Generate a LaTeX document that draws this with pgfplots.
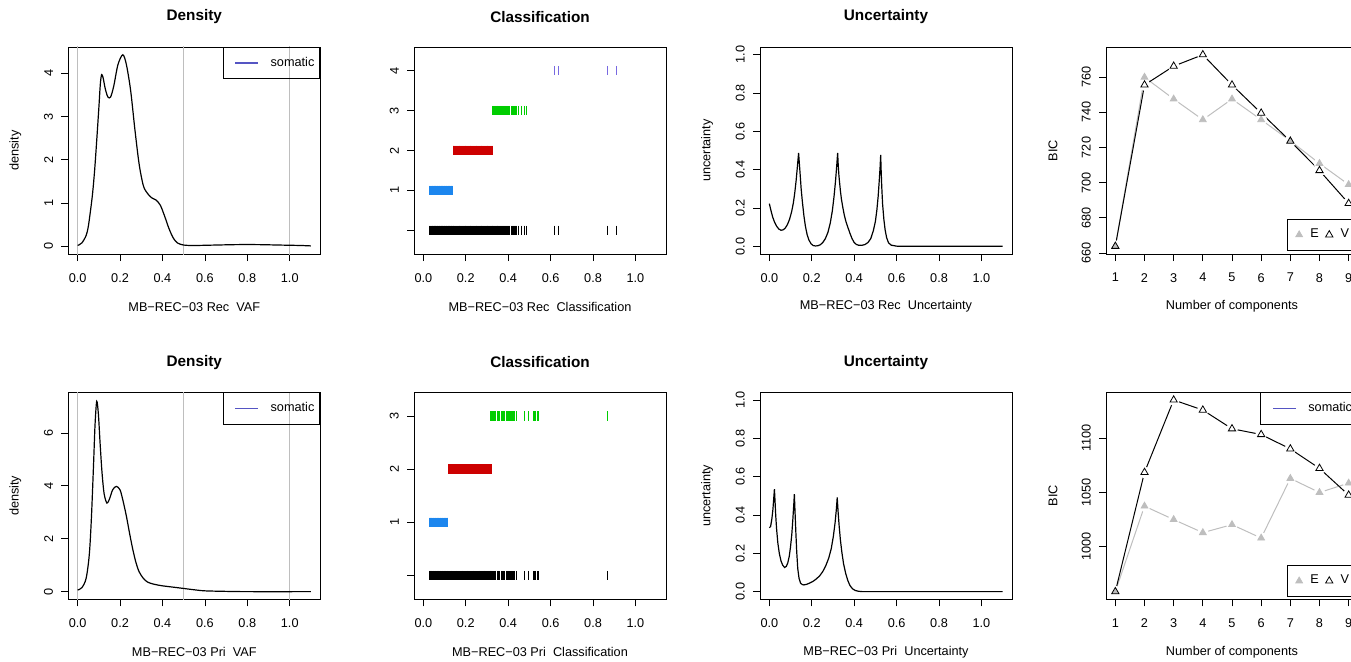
\documentclass[border=0pt]{standalone}
\usepackage{fontspec}
\setmainfont{Liberation Sans}
\usepackage{pgfplots}
\usepackage{pgfplotstable}
\pgfplotsset{compat=1.18}

\definecolor{lgray}{RGB}{190,190,190}
\definecolor{somablue}{RGB}{85,85,195}
\definecolor{cla}{RGB}{28,134,238}
\definecolor{clb}{RGB}{205,0,0}
\definecolor{clc}{RGB}{0,205,0}
\definecolor{cld}{RGB}{120,105,225}

\newcommand\rfont{\fontsize{6.35}{7.5}\selectfont}

% density curves
\pgfplotstableread{
x y
0.000 0.02
0.020 0.08
0.040 0.25
0.050 0.45
0.060 0.80
0.070 1.20
0.080 1.75
0.090 2.45
0.100 3.20
0.107 3.75
0.113 3.97
0.120 3.90
0.130 3.65
0.142 3.46
0.155 3.45
0.170 3.70
0.190 4.20
0.213 4.43
0.230 4.20
0.250 3.60
0.270 2.70
0.290 1.90
0.310 1.40
0.330 1.22
0.350 1.12
0.370 1.07
0.390 0.95
0.410 0.70
0.430 0.42
0.450 0.20
0.470 0.08
0.500 0.03
0.550 0.02
0.650 0.03
0.750 0.04
0.850 0.04
0.950 0.03
1.050 0.02
1.100 0.01
}\densA

\pgfplotstableread{
x y
0.000 0.06
0.020 0.15
0.040 0.50
0.055 1.40
0.065 2.80
0.075 4.80
0.082 6.30
0.090 7.20
0.098 6.70
0.106 5.60
0.115 4.50
0.125 3.70
0.138 3.35
0.150 3.50
0.165 3.85
0.182 3.98
0.200 3.85
0.215 3.40
0.230 2.85
0.245 2.20
0.260 1.60
0.275 1.10
0.290 0.75
0.310 0.50
0.330 0.36
0.360 0.28
0.400 0.22
0.450 0.17
0.500 0.12
0.550 0.07
0.600 0.03
0.700 0.01
0.800 0.00
1.100 0.00
}\densB

% uncertainty curves
\pgfplotstableread{
x y
0.000 0.223
0.008 0.185
0.016 0.152
0.025 0.125
0.035 0.104
0.045 0.090
0.055 0.084
0.065 0.086
0.075 0.095
0.085 0.113
0.095 0.140
0.105 0.180
0.113 0.225
0.120 0.280
0.126 0.340
0.131 0.400
0.135 0.450
0.138 0.487
0.141 0.440
0.145 0.380
0.150 0.300
0.156 0.230
0.163 0.160
0.170 0.105
0.178 0.062
0.187 0.032
0.197 0.013
0.207 0.004
0.217 0.002
0.228 0.003
0.240 0.008
0.252 0.020
0.264 0.040
0.276 0.072
0.287 0.120
0.297 0.185
0.305 0.260
0.312 0.340
0.317 0.410
0.320 0.455
0.322 0.487
0.325 0.420
0.328 0.370
0.331 0.335
0.335 0.290
0.340 0.245
0.346 0.206
0.353 0.165
0.361 0.130
0.370 0.100
0.380 0.068
0.390 0.040
0.400 0.020
0.410 0.010
0.420 0.006
0.435 0.005
0.450 0.009
0.465 0.020
0.478 0.040
0.490 0.080
0.500 0.130
0.507 0.190
0.513 0.260
0.518 0.340
0.522 0.410
0.525 0.477
0.527 0.400
0.530 0.310
0.534 0.220
0.540 0.140
0.546 0.085
0.553 0.045
0.562 0.018
0.575 0.006
0.600 0.001
0.650 0.000
1.100 0.000
}\uncA

\pgfplotstableread{
x y
0.000 0.333
0.006 0.340
0.012 0.380
0.017 0.430
0.021 0.490
0.024 0.535
0.027 0.470
0.030 0.400
0.034 0.330
0.040 0.255
0.047 0.200
0.055 0.160
0.063 0.138
0.072 0.126
0.080 0.132
0.087 0.150
0.094 0.185
0.100 0.235
0.106 0.300
0.111 0.380
0.115 0.450
0.118 0.509
0.121 0.420
0.125 0.310
0.129 0.210
0.134 0.120
0.140 0.070
0.147 0.045
0.155 0.037
0.163 0.035
0.175 0.038
0.189 0.044
0.205 0.053
0.220 0.065
0.237 0.082
0.252 0.105
0.266 0.135
0.280 0.175
0.292 0.225
0.302 0.290
0.310 0.360
0.316 0.430
0.320 0.491
0.324 0.420
0.329 0.345
0.335 0.270
0.342 0.205
0.350 0.145
0.360 0.095
0.370 0.058
0.380 0.032
0.392 0.015
0.405 0.006
0.420 0.002
0.440 0.000
1.100 0.000
}\uncB

% classification, Rec (x = VAF, k = class)
\pgfplotstableread[row sep=\\]{x k\\0.030 1\\0.034 1\\0.038 1\\0.041 1\\0.044 1\\0.047 1\\0.050 1\\0.053 1\\0.056 1\\0.059 1\\0.062 1\\0.065 1\\0.068 1\\0.071 1\\0.074 1\\0.077 1\\0.080 1\\0.083 1\\0.086 1\\0.089 1\\0.092 1\\0.095 1\\0.098 1\\0.101 1\\0.104 1\\0.107 1\\0.110 1\\0.113 1\\0.116 1\\0.119 1\\0.122 1\\0.125 1\\0.128 1\\0.131 1\\0.134 1\\0.137 1\\}\cRa
\pgfplotstableread[row sep=\\]{x k\\0.140 2\\0.144 2\\0.148 2\\0.152 2\\0.156 2\\0.160 2\\0.164 2\\0.168 2\\0.172 2\\0.176 2\\0.180 2\\0.184 2\\0.188 2\\0.192 2\\0.196 2\\0.200 2\\0.204 2\\0.208 2\\0.212 2\\0.216 2\\0.220 2\\0.224 2\\0.228 2\\0.232 2\\0.236 2\\0.240 2\\0.244 2\\0.248 2\\0.252 2\\0.256 2\\0.260 2\\0.264 2\\0.268 2\\0.272 2\\0.276 2\\0.280 2\\0.284 2\\0.288 2\\0.292 2\\0.296 2\\0.300 2\\0.304 2\\0.308 2\\0.312 2\\0.316 2\\0.320 2\\0.324 2\\}\cRb
\pgfplotstableread[row sep=\\]{x k\\0.327 3\\0.331 3\\0.335 3\\0.339 3\\0.343 3\\0.347 3\\0.351 3\\0.355 3\\0.360 3\\0.364 3\\0.369 3\\0.373 3\\0.378 3\\0.382 3\\0.387 3\\0.392 3\\0.397 3\\0.402 3\\0.408 3\\0.413 3\\0.418 3\\0.423 3\\0.428 3\\0.433 3\\0.437 3\\0.447 3\\0.462 3\\0.475 3\\0.485 3\\}\cRc
\pgfplotstableread[row sep=\\]{x k\\0.617 4\\0.639 4\\0.866 4\\0.910 4\\}\cRd

% classification, Pri
\pgfplotstableread[row sep=\\]{x k\\0.028 1\\0.031 1\\0.034 1\\0.037 1\\0.040 1\\0.043 1\\0.046 1\\0.049 1\\0.052 1\\0.055 1\\0.058 1\\0.061 1\\0.064 1\\0.067 1\\0.070 1\\0.073 1\\0.076 1\\0.079 1\\0.082 1\\0.085 1\\0.088 1\\0.091 1\\0.094 1\\0.097 1\\0.100 1\\0.103 1\\0.106 1\\0.109 1\\0.112 1\\0.115 1\\}\cPa
\pgfplotstableread[row sep=\\]{x k\\0.118 2\\0.122 2\\0.126 2\\0.130 2\\0.134 2\\0.138 2\\0.142 2\\0.146 2\\0.150 2\\0.154 2\\0.158 2\\0.162 2\\0.166 2\\0.170 2\\0.174 2\\0.178 2\\0.182 2\\0.186 2\\0.190 2\\0.194 2\\0.198 2\\0.202 2\\0.206 2\\0.210 2\\0.214 2\\0.218 2\\0.222 2\\0.226 2\\0.230 2\\0.234 2\\0.238 2\\0.242 2\\0.246 2\\0.250 2\\0.254 2\\0.258 2\\0.262 2\\0.266 2\\0.270 2\\0.274 2\\0.278 2\\0.282 2\\0.286 2\\0.290 2\\0.294 2\\0.298 2\\0.302 2\\0.306 2\\0.310 2\\0.314 2\\0.318 2\\0.322 2\\}\cPb
\pgfplotstableread[row sep=\\]{x k\\0.318 3\\0.322 3\\0.326 3\\0.330 3\\0.334 3\\0.338 3\\0.342 3\\0.347 3\\0.352 3\\0.356 3\\0.360 3\\0.366 3\\0.372 3\\0.378 3\\0.384 3\\0.390 3\\0.396 3\\0.400 3\\0.405 3\\0.410 3\\0.416 3\\0.420 3\\0.425 3\\0.430 3\\0.440 3\\0.475 3\\0.497 3\\0.518 3\\0.524 3\\0.530 3\\0.536 3\\0.542 3\\0.870 3\\}\cPc

% BIC
\pgfplotstableread{
k E V
1 663.8 663.8
2 760.0 755.6
3 747.6 766.3
4 735.8 772.8
5 747.6 755.6
6 735.8 739.6
7 723.8 723.6
8 710.9 706.9
9 698.9 688.2
}\bicR

\pgfplotstableread{
k E V
1 958.2 958.2
2 1037.2 1068.4
3 1024.8 1135.3
4 1012.7 1126.0
5 1020.1 1108.7
6 1007.7 1103.4
7 1062.8 1090.1
8 1049.8 1072.1
9 1058.5 1047.4
}\bicP

\pgfplotsset{
  /pgf/number format/assume math mode=true,
  rbase/.style={
    scale only axis, width=126pt, height=103.5pt, anchor=south west,
    axis line style={line width=0.4pt},
    every tick/.style={black, line width=0.4pt},
    major tick length=3.5pt,
    tick align=outside, tick pos=left,
    scaled ticks=false,
    /pgf/number format/1000 sep={},
    tick label style={font=\rfont, inner sep=0pt},
    xticklabel style={anchor=north},
    yticklabel style={rotate=90, anchor=south},
    xticklabel shift=5.9pt,
    yticklabel shift=3.9pt,
    every axis title/.style={at={(axis description cs:0.5,1.145)}, anchor=center, font=\bfseries\fontsize{7.65}{9}\selectfont},
    every axis x label/.style={at={(axis description cs:0.5,-0.2546)}, anchor=center, font=\rfont},
    every axis y label/.style={at={(axis description cs:-0.2103,0.5)}, rotate=90, anchor=center, font=\rfont},
    legend style={draw=black, line width=0.4pt, fill=none, inner ysep=4.8pt, font=\rfont, nodes={inner sep=0pt}},
  },
  % legend with one line entry ("somatic")
  somaleg/.style={
    legend style={at={(1,1)}, anchor=north east, inner xsep=5.85pt},
    legend image code/.code={\draw[##1] (0pt,0pt) -- (11.5pt,0pt);},
  },
  % legend with the two BIC models
  evleg/.style={
    legend columns=2,
    legend style={at={(0.986,#1)}, anchor=south east, inner xsep=4.2pt},
    legend image code/.code={\draw[##1] plot coordinates {(0pt,0pt)};},
  },
  vaf/.style={
    xmin=-0.044, xmax=1.144, xtick={0,0.2,0.4,0.6,0.8,1},
    xticklabel style={/pgf/number format/fixed, /pgf/number format/fixed zerofill, /pgf/number format/precision=1},
  },
  cls/.style={only marks, mark=|, mark size=2.4pt, mark options={line width=0.4pt}},
}

\newcommand\somaentry{\addlegendimage{somablue, line width=0.6pt}\addlegendentry{\hspace*{5.85pt}somatic\hspace*{-3.1pt}}}

\begin{document}
\begin{tikzpicture}
\useasboundingbox (0pt,0pt) rectangle (675.5pt,330.5pt);
\clip (0pt,0pt) rectangle (675.5pt,330.5pt);

% ---------- top row ----------
\begin{axis}[rbase, vaf, somaleg, at={(34.15pt,203.5pt)},
  ymin=-0.177, ymax=4.61, ytick={0,1,2,3,4},
  title={Density}, xlabel={MB−REC−03 Rec\ \ VAF}, ylabel={density}]
\addplot[lgray, line width=0.45pt, forget plot] coordinates {(0,-1) (0,10)};
\addplot[lgray, line width=0.45pt, forget plot] coordinates {(0.5,-1) (0.5,10)};
\addplot[lgray, line width=0.45pt, forget plot] coordinates {(1,-1) (1,10)};
\addplot[black, line width=0.6pt, smooth, forget plot] table[x=x, y=y] {\densA};
\somaentry
\end{axis}

\begin{axis}[rbase, vaf, at={(207pt,203.5pt)},
  ymin=-0.592, ymax=4.592, ytick={0,1,2,3,4}, yticklabels={{},1,2,3,4},
  title={Classification}, xlabel={MB−REC−03 Rec\ \ Classification}]
\addplot[cls, black] table[x=x, y expr=0] {\cRa};
\addplot[cls, black] table[x=x, y expr=0] {\cRb};
\addplot[cls, black] table[x=x, y expr=0] {\cRc};
\addplot[cls, black] table[x=x, y expr=0] {\cRd};
\addplot[cls, cla] table[x=x, y=k] {\cRa};
\addplot[cls, clb] table[x=x, y=k] {\cRb};
\addplot[cls, clc] table[x=x, y=k] {\cRc};
\addplot[cls, cld] table[x=x, y=k] {\cRd};
\end{axis}

\begin{axis}[rbase, vaf, at={(380pt,203.5pt)},
  ymin=-0.04, ymax=1.04, ytick={0,0.2,0.4,0.6,0.8,1},
  yticklabel style={/pgf/number format/fixed, /pgf/number format/fixed zerofill, /pgf/number format/precision=1},
  title={Uncertainty}, xlabel={MB−REC−03 Rec\ \ Uncertainty}, ylabel={uncertainty}]
\addplot[black, line width=0.6pt] table[x=x, y=y] {\uncA};
\end{axis}

\begin{axis}[rbase, evleg=0.016, at={(553pt,203.5pt)},
  xmin=0.68, xmax=9.32, xtick={1,...,9},
  ymin=659.4, ymax=777.2, ytick={660,680,700,720,740,760},
  xlabel={Number of components}, ylabel={BIC}]
\addplot[lgray, line width=0.5pt, forget plot] table[x=k, y=E] {\bicR};
\addplot[black, line width=0.5pt, forget plot] table[x=k, y=V] {\bicR};
\addplot[only marks, mark=*, mark size=2.75pt, white, forget plot] table[x=k, y=E] {\bicR};
\addplot[only marks, mark=*, mark size=2.75pt, white, forget plot] table[x=k, y=V] {\bicR};
\addplot[only marks, mark=triangle*, mark size=1.95pt, lgray, forget plot] table[x=k, y=E] {\bicR};
\addplot[only marks, mark=triangle, mark size=2.1pt, black, mark options={line width=0.4pt}, forget plot] table[x=k, y=V] {\bicR};
\addlegendimage{only marks, mark=triangle*, mark size=1.95pt, lgray}
\addlegendentry{\hspace*{3.85pt}E\hspace*{3.45pt}}
\addlegendimage{only marks, mark=triangle, mark size=2.1pt, black, mark options={line width=0.4pt}}
\addlegendentry{\hspace*{3.85pt}V\hspace*{-1.7pt}}
\end{axis}

% ---------- bottom row ----------
\begin{axis}[rbase, vaf, somaleg, at={(34.15pt,30.85pt)},
  ymin=-0.29, ymax=7.54, ytick={0,2,4,6},
  title={Density}, xlabel={MB−REC−03 Pri\ \ VAF}, ylabel={density}]
\addplot[lgray, line width=0.45pt, forget plot] coordinates {(0,-1) (0,10)};
\addplot[lgray, line width=0.45pt, forget plot] coordinates {(0.5,-1) (0.5,10)};
\addplot[lgray, line width=0.45pt, forget plot] coordinates {(1,-1) (1,10)};
\addplot[black, line width=0.6pt, smooth, forget plot] table[x=x, y=y] {\densB};
\somaentry
\end{axis}

\begin{axis}[rbase, vaf, at={(207pt,30.85pt)},
  ymin=-0.444, ymax=3.444, ytick={0,1,2,3}, yticklabels={{},1,2,3},
  title={Classification}, xlabel={MB−REC−03 Pri\ \ Classification}]
\addplot[cls, black] table[x=x, y expr=0] {\cPa};
\addplot[cls, black] table[x=x, y expr=0] {\cPb};
\addplot[cls, black] table[x=x, y expr=0] {\cPc};
\addplot[cls, cla] table[x=x, y=k] {\cPa};
\addplot[cls, clb] table[x=x, y=k] {\cPb};
\addplot[cls, clc] table[x=x, y=k] {\cPc};
\end{axis}

\begin{axis}[rbase, vaf, at={(380pt,30.85pt)},
  ymin=-0.04, ymax=1.04, ytick={0,0.2,0.4,0.6,0.8,1},
  yticklabel style={/pgf/number format/fixed, /pgf/number format/fixed zerofill, /pgf/number format/precision=1},
  title={Uncertainty}, xlabel={MB−REC−03 Pri\ \ Uncertainty}, ylabel={uncertainty}]
\addplot[black, line width=0.6pt] table[x=x, y=y] {\uncB};
\end{axis}

\begin{axis}[rbase, evleg=0.012, at={(553pt,30.85pt)},
  xmin=0.68, xmax=9.32, xtick={1,...,9},
  ymin=951.1, ymax=1142.4, ytick={1000,1050,1100},
  xlabel={Number of components}, ylabel={BIC}]
\addplot[lgray, line width=0.5pt, forget plot] table[x=k, y=E] {\bicP};
\addplot[black, line width=0.5pt, forget plot] table[x=k, y=V] {\bicP};
\addplot[only marks, mark=*, mark size=2.75pt, white, forget plot] table[x=k, y=E] {\bicP};
\addplot[only marks, mark=*, mark size=2.75pt, white, forget plot] table[x=k, y=V] {\bicP};
\addplot[only marks, mark=triangle*, mark size=1.95pt, lgray, forget plot] table[x=k, y=E] {\bicP};
\addplot[only marks, mark=triangle, mark size=2.1pt, black, mark options={line width=0.4pt}, forget plot] table[x=k, y=V] {\bicP};
\addlegendimage{only marks, mark=triangle*, mark size=1.95pt, lgray}
\addlegendentry{\hspace*{3.85pt}E\hspace*{3.45pt}}
\addlegendimage{only marks, mark=triangle, mark size=2.1pt, black, mark options={line width=0.4pt}}
\addlegendentry{\hspace*{3.85pt}V\hspace*{-1.7pt}}
\end{axis}

% second legend on the bottom BIC panel
\begin{axis}[rbase, somaleg, at={(553pt,30.85pt)}, hide axis,
  xmin=0.68, xmax=9.32, ymin=951.1, ymax=1142.4]
\somaentry
\end{axis}
\end{tikzpicture}
\end{document}
